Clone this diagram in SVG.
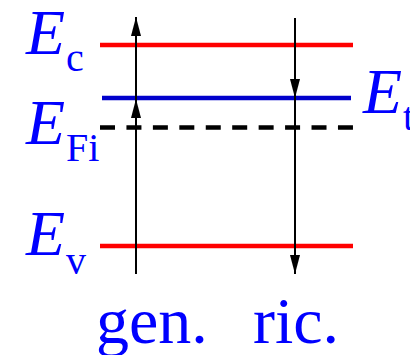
<svg xmlns="http://www.w3.org/2000/svg" width="410" height="355" viewBox="0 0 410 355">
<style>
.lbl{font-family:"Liberation Serif","Times New Roman",serif;fill:#0000ff}
.E{font-style:italic;font-size:64px}
.sub{font-size:40px}
.big{font-size:66px}
.lvl{fill:none;stroke-width:4.5}
.arr{fill:none;stroke:#000;stroke-width:2;marker-mid:url(#ah);marker-end:url(#ah)}
</style>
<defs>
<marker id="ah" viewBox="0 0 19 10" refX="19" refY="5" markerWidth="19" markerHeight="10" markerUnits="userSpaceOnUse" orient="auto">
<path d="M0,0 L19,5 L0,10 z" fill="#000"/>
</marker>
</defs>
<g id="level-Ec">
<line class="lvl" x1="100" y1="45" x2="353" y2="45" stroke="#ff0000"/>
<text class="lbl E" x="26" y="54">E</text>
<text class="lbl sub" x="66" y="71">c</text>
</g>
<g id="level-Et">
<line class="lvl" x1="102" y1="98" x2="351" y2="98" stroke="#0000cc"/>
<text class="lbl E" x="363" y="113">E</text>
<text class="lbl sub" x="403" y="130">t</text>
</g>
<g id="level-EFi">
<line class="lvl" x1="100" y1="127.5" x2="353" y2="127.5" stroke="#000" stroke-width="5" stroke-dasharray="15 11.44"/>
<text class="lbl E" x="26" y="144">E</text>
<text class="lbl sub" x="66" y="161">Fi</text>
</g>
<g id="level-Ev">
<line class="lvl" x1="100" y1="246" x2="353" y2="246" stroke="#ff0000"/>
<text class="lbl E" x="26" y="255">E</text>
<text class="lbl sub" x="66" y="274">v</text>
</g>
<g id="label-gen">
<text class="lbl big" x="96" y="343">gen.</text>
</g>
<g id="label-ric">
<text class="lbl big" x="253" y="343">ric.</text>
</g>
<g id="connectors">
<path class="arr" d="M136,274 L136,99 L136,17"/>
<path class="arr" d="M295,18 L295,98 L295,274"/>
</g>
</svg>
